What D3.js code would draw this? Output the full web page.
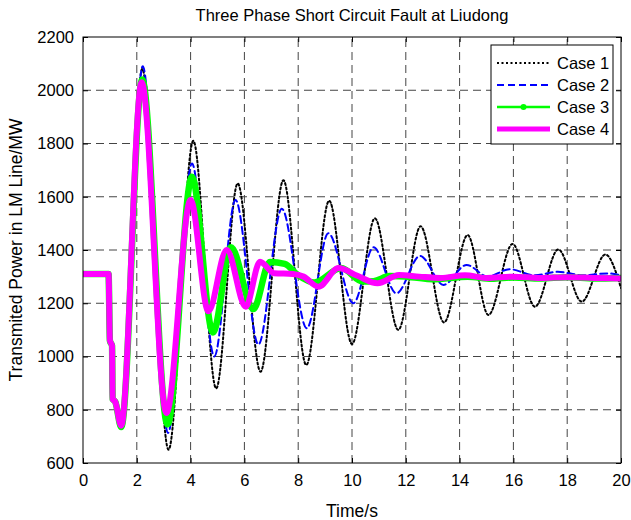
<!DOCTYPE html>
<html><head><meta charset="utf-8">
<script src="https://cdn.jsdelivr.net/npm/d3@7/dist/d3.min.js"></script>
<style>body{margin:0;background:#fff}svg{display:block}text{font-family:Arial,"Liberation Sans",sans-serif;fill:#000}</style>
</head><body><svg id="c" width="631" height="520"></svg>
<script>
const title = "Three Phase Short Circuit Fault at Liudong";
const xLabel = "Time/s";
const yLabel = "Transmited Power in LM Line/MW";
const seriesNames = ["Case 1", "Case 2", "Case 3", "Case 4"];
const xTicks = [0,2,4,6,8,10,12,14,16,18,20];
const yTicks = [600,800,1000,1200,1400,1600,1800,2000,2200];

const case1T = [0,0.95,1.0,1.08,1.1,1.2,1.42,2.2,3.18,4.1,4.95,5.75,6.6,7.45,8.3,9.15,10.0,10.85,11.72,12.55,13.42,14.3,15.07,15.97,16.8,17.67,18.54,19.42,20];
const case1V = [1310,1310,1060,1040,840,830,740,2080,650,1810,880,1650,943,1662,968,1585,1047,1519,1100,1489,1128,1456,1156,1423,1187,1402,1206,1383,1257];

const case2T = [0,0.95,1.0,1.08,1.1,1.2,1.42,2.22,3.16,4.05,4.88,5.67,6.52,7.39,8.32,9.12,10.05,10.8,11.65,12.53,13.4,14.26,15.05,15.85,16.8,17.65,18.6,19.5,20];
const case2V = [1310,1310,1060,1040,840,830,740,2090,713,1725,1000,1588,1045,1555,1106,1463,1200,1410,1237,1378,1269,1344,1300,1328,1305,1318,1305,1312,1305];

const case3T = [0,0.95,1.0,1.08,1.1,1.2,1.42,2.2,3.14,4.05,4.83,5.5,6.33,6.95,7.5,8.0,8.6,9.6,10.4,10.8,11.4,12.2,13.0,14.3,15.2,16.0,17.0,18.0,19.0,20];
const case3V = [1310,1310,1060,1040,840,830,735,2040,745,1675,1090,1410,1178,1355,1348,1305,1278,1332,1282,1283,1302,1298,1290,1300,1292,1297,1293,1298,1293,1295];

const case4T = [0,0.95,1.0,1.08,1.1,1.2,1.42,2.18,3.1,4.0,4.66,5.34,6.05,6.58,7.1,7.8,8.2,8.75,9.5,10.2,10.95,11.75,12.5,13.3,14.2,15.0,16.0,17.0,18.0,19.0,20];
const case4V = [1310,1310,1060,1040,840,830,740,2030,788,1588,1170,1400,1187,1356,1313,1310,1300,1262,1332,1303,1275,1306,1300,1295,1305,1295,1300,1295,1298,1295,1293];

const seriesT = [case1T, case2T, case3T, case4T];
const seriesV = [case1V, case2V, case3V, case4V];
const colors = ["#000000", "#0000ff", "#00ff00", "#ff00ff"];

const svg = d3.select("#c");
const L = 83, R = 621, T = 37, B = 463;
const x = d3.scaleLinear().domain([0,20]).range([L,R]);
const y = d3.scaleLinear().domain([600,2200]).range([B,T]);

// grid
const grid = svg.append("g").attr("stroke","#444").attr("stroke-width",1).attr("stroke-dasharray","8,5").attr("fill","none");
xTicks.slice(1,-1).forEach(t=>grid.append("line").attr("x1",x(t)).attr("x2",x(t)).attr("y1",B).attr("y2",T));
yTicks.slice(1,-1).forEach(v=>grid.append("line").attr("x1",L).attr("x2",R).attr("y1",y(v)).attr("y2",y(v)));

// series
const line = d3.line().curve(d3.curveMonotoneX);
const styles = [
  {w:2, dash:"2,2.5"},
  {w:2, dash:"7,4"},
  {w:6.5, dash:null},
  {w:6, dash:null}
];
svg.append("clipPath").attr("id","pc").append("rect").attr("x",L).attr("y",T).attr("width",R-L).attr("height",B-T);
const plotG = svg.append("g").attr("clip-path","url(#pc)");
seriesT.forEach((ts,i)=>{
  const pts = ts.map((t,j)=>[x(t), y(seriesV[i][j])]);
  const p = plotG.append("path").attr("d", line(pts)).attr("fill","none")
    .attr("stroke", colors[i]).attr("stroke-width", styles[i].w).attr("stroke-linejoin","round").attr("stroke-linecap","round");
  if (styles[i].dash) p.attr("stroke-dasharray", styles[i].dash);
});

// axes
const FS = 16.5;
const xAxisB = d3.axisBottom(x).tickValues(xTicks).tickSize(-5).tickPadding(11).tickFormat(d3.format("d"));
const yAxisL = d3.axisLeft(y).tickValues(yTicks).tickSize(-5).tickPadding(9).tickFormat(d3.format("d"));
const gx = svg.append("g").attr("transform",`translate(0,${B})`).call(xAxisB);
const gy = svg.append("g").attr("transform",`translate(${L},0)`).call(yAxisL);
const gxt = svg.append("g").attr("transform",`translate(0,${T})`).call(d3.axisTop(x).tickValues(xTicks).tickSize(-5).tickFormat(""));
const gyr = svg.append("g").attr("transform",`translate(${R},0)`).call(d3.axisRight(y).tickValues(yTicks).tickSize(-5).tickFormat(""));
[gx,gy,gxt,gyr].forEach(g=>{
  g.select(".domain").remove();
  g.selectAll("line").attr("stroke","#000");
  g.selectAll("text").attr("font-size",FS).attr("font-family","Arial, 'Liberation Sans', sans-serif").attr("fill","#000");
});
gx.selectAll("text").attr("dy","0.71em");
svg.append("rect").attr("x",L).attr("y",T).attr("width",R-L).attr("height",B-T).attr("fill","none").attr("stroke","#000").attr("stroke-width",1);

// labels
svg.append("text").attr("x",(L+R)/2).attr("y",21).attr("text-anchor","middle").attr("font-size",16.5).text(title);
svg.append("text").attr("x",(L+R)/2).attr("y",517).attr("text-anchor","middle").attr("font-size",17.5).text(xLabel);
svg.append("text").attr("transform",`translate(22,${(T+B)/2}) rotate(-90)`).attr("text-anchor","middle").attr("font-size",17.5).text(yLabel);

// legend
const lg = svg.append("g");
lg.append("rect").attr("x",491).attr("y",45).attr("width",122).attr("height",99).attr("fill","#fff").attr("stroke","#000").attr("stroke-width",1);
seriesNames.forEach((n,i)=>{
  const yy = 63 + i*22;
  const l = lg.append("line").attr("x1",497).attr("x2",550).attr("y1",yy).attr("y2",yy)
    .attr("stroke",colors[i]).attr("stroke-width", i===3?5:(i===2?2.5:2));
  if (styles[i].dash) l.attr("stroke-dasharray", styles[i].dash);
  if (i===2) lg.append("circle").attr("cx",523.5).attr("cy",yy).attr("r",3).attr("fill",colors[i]);
  lg.append("text").attr("x",557).attr("y",yy+6).attr("font-size",16.5).text(n);
});
</script></body></html>
